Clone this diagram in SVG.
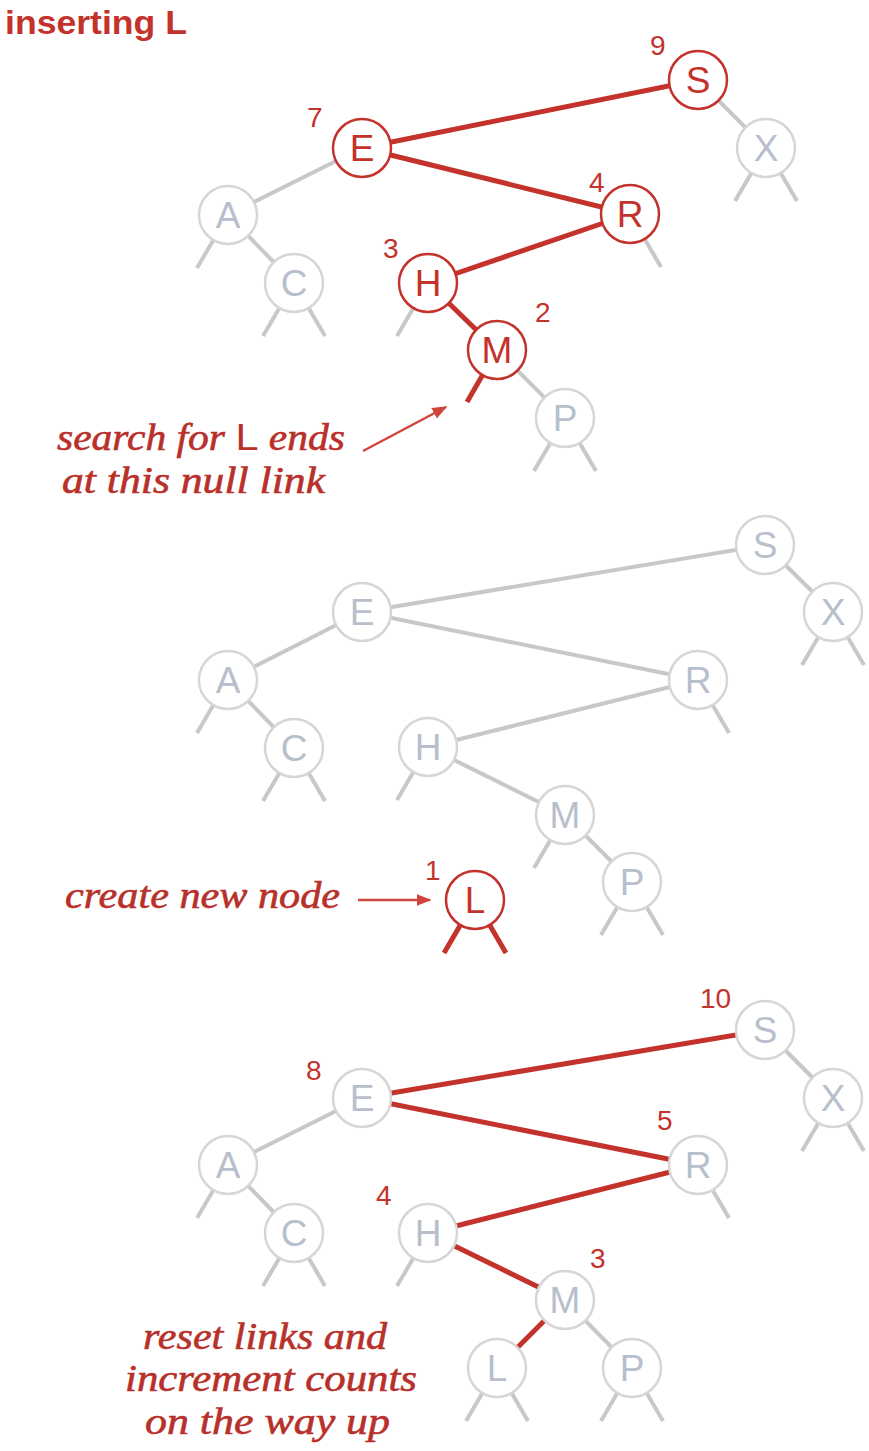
<svg xmlns="http://www.w3.org/2000/svg" width="869" height="1451" viewBox="0 0 869 1451">
<style>
.rl{stroke:#c4322c;stroke-width:5;stroke-linecap:butt;fill:none}
.gl{stroke:#c8c8c8;stroke-width:4;fill:none}
.ar{stroke:#d0453c;stroke-width:2.5;fill:none}
.gc{fill:#fff;stroke:#d6d6d6;stroke-width:2.5}
.rc{fill:#fff;stroke:#c4322c;stroke-width:2.5}
.gt{font-family:"Liberation Sans",Arial,sans-serif;font-size:37px;fill:#b8bfcc;text-anchor:middle}
.rt{font-family:"Liberation Sans",Arial,sans-serif;font-size:37px;fill:#c4322c;text-anchor:middle}
.cnt{font-family:"Liberation Sans",Arial,sans-serif;font-size:28px;fill:#c4322c}
.note{font-family:"Liberation Serif","Times New Roman",serif;font-style:italic;font-size:37px;fill:#b8302a;stroke:#b8302a;stroke-width:0.6}
.code{font-family:"Liberation Sans",Arial,sans-serif;font-style:normal;stroke-width:0}
.title{font-family:"Liberation Sans",Arial,sans-serif;font-weight:bold;font-size:33px;fill:#c4322c}
</style>
<defs>
<marker id="ah" viewBox="0 0 10 10" refX="9" refY="5" markerWidth="6" markerHeight="6" orient="auto" markerUnits="strokeWidth">
<path d="M0,1 L10,5 L0,9 z" fill="#d0453c"/>
</marker>
</defs>

<text class="title" x="5" y="34" textLength="182" lengthAdjust="spacingAndGlyphs">inserting L</text>

<g id="connectors">
<!-- top tree -->
<line class="gl" x1="362" y1="148" x2="228" y2="215"/>
<line class="gl" x1="228" y1="215" x2="294" y2="283"/>
<line class="gl" x1="698" y1="80" x2="766" y2="148"/>
<line class="gl" x1="497" y1="350" x2="565" y2="418"/>
<line class="gl" x1="228" y1="215" x2="197" y2="268"/>
<line class="gl" x1="294" y1="283" x2="263" y2="336"/>
<line class="gl" x1="294" y1="283" x2="325" y2="336"/>
<line class="gl" x1="428" y1="283" x2="397" y2="336"/>
<line class="gl" x1="565" y1="418" x2="534" y2="471"/>
<line class="gl" x1="565" y1="418" x2="596" y2="471"/>
<line class="gl" x1="630" y1="214" x2="661" y2="267"/>
<line class="gl" x1="766" y1="148" x2="735" y2="201"/>
<line class="gl" x1="766" y1="148" x2="797" y2="201"/>
<line class="rl" x1="698" y1="80" x2="362" y2="148"/>
<line class="rl" x1="362" y1="148" x2="630" y2="214"/>
<line class="rl" x1="630" y1="214" x2="428" y2="283"/>
<line class="rl" x1="428" y1="283" x2="497" y2="350"/>
<line class="rl" x1="497" y1="350" x2="467" y2="402"/>
<line class="ar" x1="363" y1="451" x2="446" y2="407" marker-end="url(#ah)"/>

<!-- middle tree -->
<line class="gl" x1="765" y1="545" x2="362" y2="612"/>
<line class="gl" x1="362" y1="612" x2="698" y2="680"/>
<line class="gl" x1="698" y1="680" x2="428" y2="747"/>
<line class="gl" x1="428" y1="747" x2="565" y2="815"/>
<line class="gl" x1="362" y1="612" x2="228" y2="680"/>
<line class="gl" x1="228" y1="680" x2="294" y2="748"/>
<line class="gl" x1="765" y1="545" x2="833" y2="612"/>
<line class="gl" x1="565" y1="815" x2="632" y2="882"/>
<line class="gl" x1="228" y1="680" x2="197" y2="733"/>
<line class="gl" x1="294" y1="748" x2="263" y2="801"/>
<line class="gl" x1="294" y1="748" x2="325" y2="801"/>
<line class="gl" x1="428" y1="747" x2="397" y2="800"/>
<line class="gl" x1="565" y1="815" x2="534" y2="868"/>
<line class="gl" x1="632" y1="882" x2="601" y2="935"/>
<line class="gl" x1="632" y1="882" x2="663" y2="935"/>
<line class="gl" x1="698" y1="680" x2="729" y2="733"/>
<line class="gl" x1="833" y1="612" x2="802" y2="665"/>
<line class="gl" x1="833" y1="612" x2="864" y2="665"/>
<line class="rl" x1="475" y1="900" x2="444" y2="953"/>
<line class="rl" x1="475" y1="900" x2="506" y2="953"/>
<line class="ar" x1="358" y1="900" x2="430" y2="900" marker-end="url(#ah)"/>

<!-- bottom tree -->
<line class="gl" x1="362" y1="1098" x2="228" y2="1165"/>
<line class="gl" x1="228" y1="1165" x2="294" y2="1233"/>
<line class="gl" x1="765" y1="1030" x2="833" y2="1098"/>
<line class="gl" x1="565" y1="1300" x2="632" y2="1368"/>
<line class="gl" x1="228" y1="1165" x2="197" y2="1218"/>
<line class="gl" x1="294" y1="1233" x2="263" y2="1286"/>
<line class="gl" x1="294" y1="1233" x2="325" y2="1286"/>
<line class="gl" x1="428" y1="1233" x2="397" y2="1286"/>
<line class="gl" x1="497" y1="1368" x2="466" y2="1421"/>
<line class="gl" x1="497" y1="1368" x2="528" y2="1421"/>
<line class="gl" x1="632" y1="1368" x2="601" y2="1421"/>
<line class="gl" x1="632" y1="1368" x2="663" y2="1421"/>
<line class="gl" x1="698" y1="1165" x2="729" y2="1218"/>
<line class="gl" x1="833" y1="1098" x2="802" y2="1151"/>
<line class="gl" x1="833" y1="1098" x2="864" y2="1151"/>
<line class="rl" x1="765" y1="1030" x2="362" y2="1098"/>
<line class="rl" x1="362" y1="1098" x2="698" y2="1165"/>
<line class="rl" x1="698" y1="1165" x2="428" y2="1233"/>
<line class="rl" x1="428" y1="1233" x2="565" y2="1300"/>
<line class="rl" x1="565" y1="1300" x2="497" y2="1368"/>
</g>

<!-- top tree nodes -->
<g id="t-S"><circle class="rc" cx="698" cy="80" r="29"/><text class="rt" x="698" y="93">S</text><text class="cnt" x="650" y="55">9</text></g>
<g id="t-E"><circle class="rc" cx="362" cy="148" r="29"/><text class="rt" x="362" y="161">E</text><text class="cnt" x="307" y="127">7</text></g>
<g id="t-R"><circle class="rc" cx="630" cy="214" r="29"/><text class="rt" x="630" y="227">R</text><text class="cnt" x="589" y="192">4</text></g>
<g id="t-H"><circle class="rc" cx="428" cy="283" r="29"/><text class="rt" x="428" y="296">H</text><text class="cnt" x="383" y="258">3</text></g>
<g id="t-M"><circle class="rc" cx="497" cy="350" r="29"/><text class="rt" x="497" y="363">M</text><text class="cnt" x="535" y="322">2</text></g>
<g id="t-X"><circle class="gc" cx="766" cy="148" r="29"/><text class="gt" x="766" y="161">X</text></g>
<g id="t-A"><circle class="gc" cx="228" cy="215" r="29"/><text class="gt" x="228" y="228">A</text></g>
<g id="t-C"><circle class="gc" cx="294" cy="283" r="29"/><text class="gt" x="294" y="296">C</text></g>
<g id="t-P"><circle class="gc" cx="565" cy="418" r="29"/><text class="gt" x="565" y="431">P</text></g>
<g id="t-note"><text class="note" x="57" y="450" textLength="288" lengthAdjust="spacingAndGlyphs">search for <tspan class="code">L</tspan> ends</text><text class="note" x="62" y="493" textLength="263" lengthAdjust="spacingAndGlyphs">at this null link</text></g>

<!-- middle tree nodes -->
<g id="m-S"><circle class="gc" cx="765" cy="545" r="29"/><text class="gt" x="765" y="558">S</text></g>
<g id="m-X"><circle class="gc" cx="833" cy="612" r="29"/><text class="gt" x="833" y="625">X</text></g>
<g id="m-E"><circle class="gc" cx="362" cy="612" r="29"/><text class="gt" x="362" y="625">E</text></g>
<g id="m-A"><circle class="gc" cx="228" cy="680" r="29"/><text class="gt" x="228" y="693">A</text></g>
<g id="m-C"><circle class="gc" cx="294" cy="748" r="29"/><text class="gt" x="294" y="761">C</text></g>
<g id="m-R"><circle class="gc" cx="698" cy="680" r="29"/><text class="gt" x="698" y="693">R</text></g>
<g id="m-H"><circle class="gc" cx="428" cy="747" r="29"/><text class="gt" x="428" y="760">H</text></g>
<g id="m-M"><circle class="gc" cx="565" cy="815" r="29"/><text class="gt" x="565" y="828">M</text></g>
<g id="m-P"><circle class="gc" cx="632" cy="882" r="29"/><text class="gt" x="632" y="895">P</text></g>
<g id="m-L"><circle class="rc" cx="475" cy="900" r="29"/><text class="rt" x="475" y="913">L</text><text class="cnt" x="425" y="880">1</text></g>
<g id="m-note"><text class="note" x="65" y="908" textLength="275" lengthAdjust="spacingAndGlyphs">create new node</text></g>

<!-- bottom tree nodes -->
<g id="b-S"><circle class="gc" cx="765" cy="1030" r="29"/><text class="gt" x="765" y="1043">S</text><text class="cnt" x="700" y="1008">10</text></g>
<g id="b-X"><circle class="gc" cx="833" cy="1098" r="29"/><text class="gt" x="833" y="1111">X</text></g>
<g id="b-E"><circle class="gc" cx="362" cy="1098" r="29"/><text class="gt" x="362" y="1111">E</text><text class="cnt" x="306" y="1080">8</text></g>
<g id="b-A"><circle class="gc" cx="228" cy="1165" r="29"/><text class="gt" x="228" y="1178">A</text></g>
<g id="b-C"><circle class="gc" cx="294" cy="1233" r="29"/><text class="gt" x="294" y="1246">C</text></g>
<g id="b-R"><circle class="gc" cx="698" cy="1165" r="29"/><text class="gt" x="698" y="1178">R</text><text class="cnt" x="657" y="1130">5</text></g>
<g id="b-H"><circle class="gc" cx="428" cy="1233" r="29"/><text class="gt" x="428" y="1246">H</text><text class="cnt" x="376" y="1205">4</text></g>
<g id="b-M"><circle class="gc" cx="565" cy="1300" r="29"/><text class="gt" x="565" y="1313">M</text><text class="cnt" x="590" y="1268">3</text></g>
<g id="b-L"><circle class="gc" cx="497" cy="1368" r="29"/><text class="gt" x="497" y="1381">L</text></g>
<g id="b-P"><circle class="gc" cx="632" cy="1368" r="29"/><text class="gt" x="632" y="1381">P</text></g>
<g id="b-note">
<text class="note" x="143" y="1349" textLength="244" lengthAdjust="spacingAndGlyphs">reset links and</text>
<text class="note" x="125" y="1391" textLength="292" lengthAdjust="spacingAndGlyphs">increment counts</text>
<text class="note" x="145" y="1434" textLength="245" lengthAdjust="spacingAndGlyphs">on the way up</text>
</g>
</svg>
